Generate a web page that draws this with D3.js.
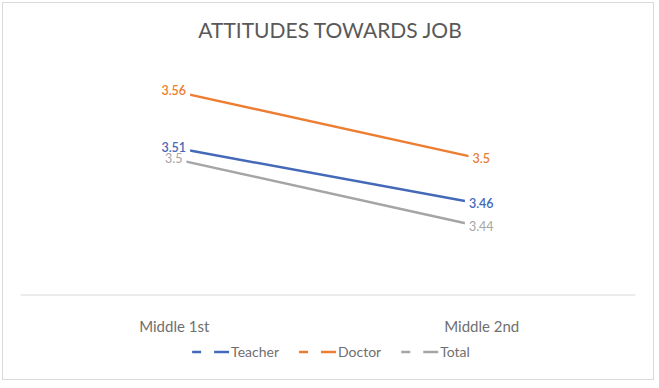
<!DOCTYPE html>
<html>
<head>
<meta charset="utf-8">
<script src="https://cdn.jsdelivr.net/npm/d3@7"></script>
<style>
  html, body { margin: 0; padding: 0; background: #fff; }
  svg { display: block; font-family: Lato, "Open Sans", sans-serif; }
</style>
</head>
<body>
<svg id="chart" width="659" height="388"></svg>
<script>
// ---- data ----
const categories = ["Middle 1st", "Middle 2nd"];
const seriesNames = ["Teacher", "Doctor", "Total"];
const teacherValues = [3.51, 3.46];
const doctorValues = [3.56, 3.5];
const totalValues = [3.5, 3.44];
const valueDomain = [3.38, 3.58];
const chartTitle = "ATTITUDES TOWARDS JOB";

// ---- styles ----
const colors = { Teacher: "#4469B8", Doctor: "#ED7D31", Total: "#A5A5A5" };
const textColor = "#595959";
const axisTextColor = "#6F6F6F";
const gridColor = "#D9D9D9";

const series = [
  { name: "Teacher", values: teacherValues },
  { name: "Doctor", values: doctorValues },
  { name: "Total", values: totalValues }
];

const svg = d3.select("#chart");

// chart border
svg.append("rect")
  .attr("x", 2.5).attr("y", 2.5).attr("width", 651).attr("height", 377)
  .attr("fill", "#fff").attr("stroke", gridColor).attr("stroke-width", 1);

// title
svg.append("text")
  .attr("x", 330).attr("y", 38)
  .attr("text-anchor", "middle")
  .attr("font-size", 21)
  .attr("fill", textColor)
  .text(chartTitle);

const x = d3.scalePoint().domain(categories).range([20, 635]).padding(0.5);
const y = d3.scaleLinear().domain(valueDomain).range([294.5, 68.5]);

// x axis
const xAxis = svg.append("g")
  .attr("transform", `translate(0,${y(valueDomain[0])})`)
  .call(d3.axisBottom(x).tickSize(0).tickSizeOuter(0).tickPadding(27));
xAxis.select(".domain").attr("stroke", gridColor).attr("stroke-width", 1);
xAxis.selectAll("text")
  .attr("font-size", 15)
  .attr("font-family", "Lato, 'Open Sans', sans-serif")
  .attr("fill", axisTextColor);

// lines
const line = d3.line()
  .x((d, i) => x(categories[i]))
  .y(d => y(d));

svg.append("g").selectAll("path")
  .data(series)
  .join("path")
  .attr("d", d => line(d.values))
  .attr("fill", "none")
  .attr("stroke", d => colors[d.name])
  .attr("stroke-width", 2.5)
  .attr("stroke-linecap", "butt");

// data labels (with white boxes, as in the source)
const fmt = d3.format(".2~f");
const labelData = [];
series.forEach(s => s.values.forEach((v, i) => labelData.push({ name: s.name, cat: categories[i], v })));

const rectG = svg.append("g");
const textG = svg.append("g");
const labels = textG.selectAll("text")
  .data(labelData)
  .join("text")
  .attr("x", d => x(d.cat))
  .attr("y", d => y(d.v))
  .attr("dy", "0.35em")
  .attr("text-anchor", "middle")
  .attr("font-size", 12.5)
  .attr("font-weight", d => d.name === "Total" ? 400 : 600)
  .attr("fill", d => colors[d.name])
  .text(d => fmt(d.v));

labels.each(function(d) {
  const b = this.getBBox();
  rectG.append("rect")
    .attr("x", b.x - 4).attr("y", b.y + 2)
    .attr("width", b.width + 8).attr("height", b.height - 4)
    .attr("fill", "#fff");
});

// legend
const legend = svg.append("g");
const legendY = 352;
let cx = 0;
seriesNames.forEach(name => {
  const g = legend.append("g");
  g.append("line").attr("x1", cx).attr("x2", cx + 9).attr("y1", legendY).attr("y2", legendY)
    .attr("stroke", colors[name]).attr("stroke-width", 2.5);
  g.append("line").attr("x1", cx + 22).attr("x2", cx + 37).attr("y1", legendY).attr("y2", legendY)
    .attr("stroke", colors[name]).attr("stroke-width", 2.5);
  const t = g.append("text").attr("x", cx + 39).attr("y", legendY).attr("dy", "0.35em")
    .attr("font-size", 14).attr("fill", axisTextColor).text(name);
  const w = t.node().getComputedTextLength();
  cx += 39 + w + 20;
});
const legendWidth = cx - 20;
legend.attr("transform", `translate(${331 - legendWidth / 2},0)`);
</script>
</body>
</html>
